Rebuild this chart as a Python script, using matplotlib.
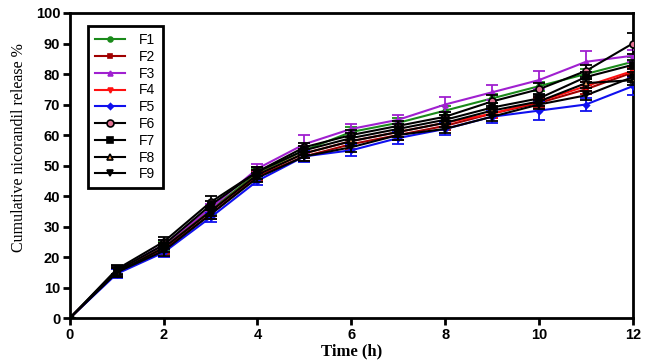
import matplotlib.pyplot as plt

time = [0, 1, 2, 3, 4, 5, 6, 7, 8, 9, 10, 11, 12]

F1 = [0, 15.5, 23.5, 35.5, 47.5, 55, 61, 64, 68, 72, 76, 80, 84]
F2 = [0, 15, 22.5, 34, 46.5, 53, 57, 60, 63, 67, 70.5, 75, 80.5]
F3 = [0, 15.5, 24, 36, 49, 57, 62, 65, 70, 74, 78, 84, 86]
F4 = [0, 15, 23, 35, 47, 54, 58, 61, 64, 67, 71, 76, 81]
F5 = [0, 14.5, 21.5, 33, 45, 53, 55, 59, 62, 66, 68, 70, 76]
F6 = [0, 16, 25, 38, 48, 56, 60, 63, 66, 71, 75, 81, 90]
F7 = [0, 15.5, 24, 37, 48, 55, 59, 62, 65, 69, 72, 79, 83]
F8 = [0, 15, 23, 35, 47, 54, 58, 61, 64, 68, 71, 77, 78]
F9 = [0, 15, 22, 34, 46, 53, 56, 60, 62, 66, 70, 73, 79]

sd_small = [0, 1.5, 1.5, 1.5, 1.5, 1.5, 1.5, 1.5, 1.5, 1.5, 1.5, 1.5, 1.5]
sd_F3 = [0, 1.5, 1.5, 1.5, 1.5, 3, 1.5, 1.5, 2.5, 2.5, 3, 3.5, 2]
sd_F5 = [0, 1.5, 1.5, 1.5, 1.5, 2, 2, 2, 2, 2, 3, 2, 3]
sd_F6 = [0, 1.5, 1.5, 2, 1.5, 1.5, 1.5, 1.5, 1.5, 2, 2, 2, 3.5]

labels = ['F1', 'F2', 'F3', 'F4', 'F5', 'F6', 'F7', 'F8', 'F9']
series = [F1, F2, F3, F4, F5, F6, F7, F8, F9]
errors = [sd_small, sd_small, sd_F3, sd_small, sd_F5, sd_F6, sd_small, sd_small, sd_small]
colors = ['#1a8a1a', '#a00000', '#a020d0', '#ff1010', '#1010ee',
          'black', 'black', 'black', 'black']
markers = ['o', 's', '^', 'v', 'D', 'o', 's', '^', 'v']
faces = ['#1a8a1a', '#a00000', '#a020d0', '#ff1010', '#1010ee',
         '#e07090', 'black', '#f0a060', 'black']
sizes = [3.5, 3.5, 3.5, 3.5, 3, 5, 5, 4.5, 5]

fig = plt.figure(figsize=(6.53, 3.61), dpi=100)
ax = fig.add_axes([0.107, 0.119, 0.862, 0.845])

for i in range(9):
    z = 3 + i
    ax.errorbar(time, series[i], yerr=errors[i], fmt='none', ecolor=colors[i],
                elinewidth=1.3, capsize=4, capthick=1.3, zorder=z)
    ax.plot(time, series[i], color=colors[i], lw=1.5, marker=markers[i],
            ms=sizes[i], mfc=faces[i], mec=colors[i], mew=1.2,
            label=labels[i], zorder=z)

ax.set_xlim(0, 12)
ax.set_ylim(0, 100)
ax.set_xticks(range(0, 13, 2))
ax.set_yticks(range(0, 101, 10))
for s in ax.spines.values():
    s.set_linewidth(2)
ax.tick_params(direction='out', width=2, length=5, labelsize=10.5, pad=2)
for t in ax.get_xticklabels() + ax.get_yticklabels():
    t.set_fontfamily('Liberation Sans')
    t.set_fontweight('bold')

ax.set_xlabel('Time (h)', fontfamily='Liberation Serif', fontweight='bold',
              fontsize=12, labelpad=1)
ax.set_ylabel('Cumulative nicorandil release %', fontfamily='Liberation Serif',
              fontsize=11.5)
ax.yaxis.set_label_coords(-0.077, 0.56)

leg = ax.legend(loc='upper left', bbox_to_anchor=(0.032, 0.957), borderaxespad=0,
                fancybox=False, edgecolor='black', framealpha=1,
                prop={'family': 'Liberation Sans', 'size': 10},
                handlelength=2.2, labelspacing=0.2, borderpad=0.5, handletextpad=1.0)
leg.get_frame().set_linewidth(2)

fig.savefig('out.png', dpi=100)
